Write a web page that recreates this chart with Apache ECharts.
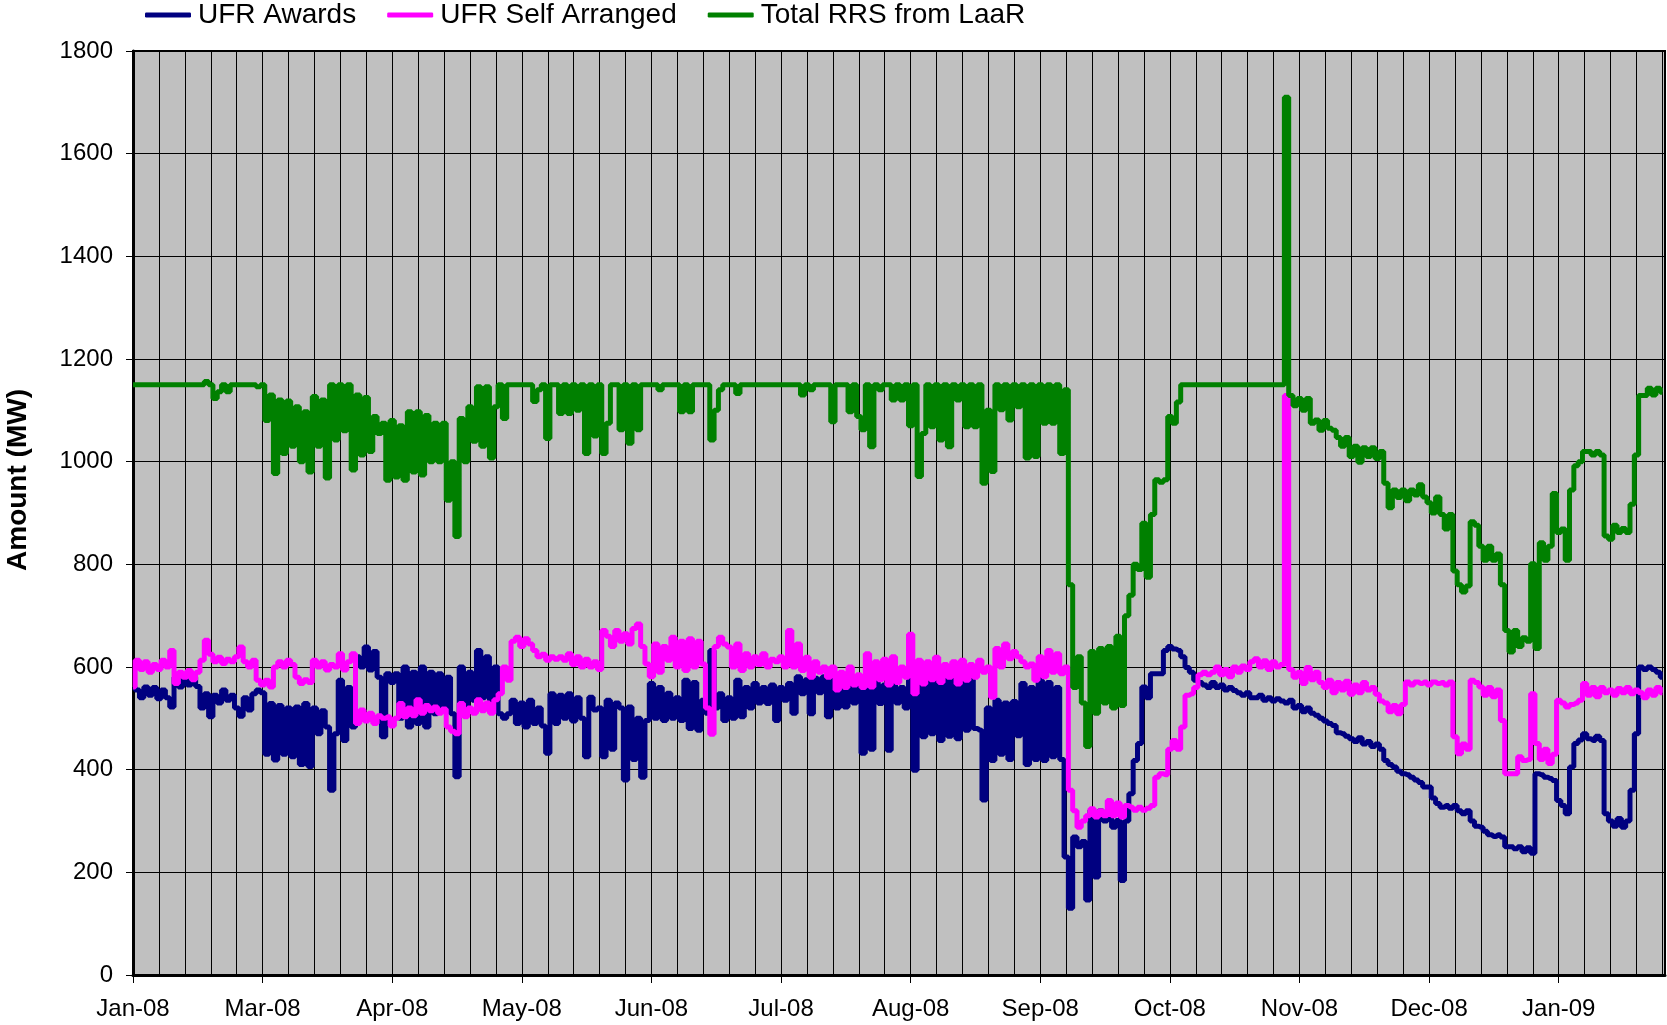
<!DOCTYPE html>
<html>
<head>
<meta charset="utf-8">
<script src="https://cdn.jsdelivr.net/npm/echarts@6/dist/echarts.min.js"></script>
<style>
html,body{margin:0;padding:0;background:#fff;}
#chart{width:1667px;height:1025px;}
</style>
</head>
<body>
<div id="chart"></div>
<script>
// Tick labels (one per major tick, every 30 days from the first day)
const xLabels = ['Jan-08','Mar-08','Apr-08','May-08','Jun-08','Jul-08','Aug-08','Sep-08','Oct-08','Nov-08','Dec-08','Jan-09'];
const tickDays = [0,30,60,90,120,150,180,210,240,270,300,330];
const yTicks = [0,200,400,600,800,1000,1200,1400,1600,1800];
const seriesNames = ['UFR Awards','UFR Self Arranged','Total RRS from LaaR'];
const yTitle = 'Amount (MW)';

// Daily values (MW), index = day from start of axis
const ufrAwards = [
561,555,540,561,545,560,538,555,540,522,
580,561,575,565,580,562,520,548,503,545,
530,555,535,545,520,504,540,516,548,555,
550,430,529,419,525,430,520,425,522,410,
529,406,520,470,515,483,360,470,574,457,
560,483,620,600,639,594,630,580,464,587,
570,587,500,600,483,590,490,600,483,590,
509,587,520,580,509,386,600,509,590,535,
632,540,620,535,600,509,500,509,535,490,
530,483,535,490,520,485,432,548,490,545,
500,548,495,540,500,425,541,516,520,425,
535,440,530,520,380,522,420,500,385,496,
568,500,560,496,549,500,540,496,574,480,
570,477,535,510,632,520,548,496,540,500,
574,503,560,520,568,530,560,529,565,496,
560,535,568,510,581,548,575,509,578,550,
581,503,575,520,574,522,570,530,581,432,
570,440,574,529,565,438,570,530,560,520,
574,399,570,464,581,470,587,457,580,465,
587,460,581,477,575,480,477,341,520,418,
535,430,530,420,533,466,568,410,560,420,
574,418,570,425,560,420,230,130,269,250,
260,146,321,191,320,300,321,288,301,184,
300,353,418,451,561,540,587,587,587,632,
640,635,632,620,599,590,574,570,565,560,
570,560,565,555,560,554,550,545,550,540,
540,545,535,540,534,538,534,530,535,520,
525,513,520,510,506,500,495,490,486,472,
470,465,460,455,462,450,455,445,450,440,
418,410,405,397,392,390,385,380,375,366,
366,345,334,327,330,325,330,320,314,320,
300,290,288,280,273,270,273,269,250,250,
246,250,240,248,237,392,390,385,383,379,
340,330,314,405,451,458,470,460,457,465,
457,314,300,290,305,288,300,360,470,600,
595,600,595,590,580
];

const ufrSelfArranged = [
561,613,595,610,590,605,595,613,600,632,
568,590,580,593,575,590,613,652,625,610,
619,607,615,610,620,639,610,600,613,574,
565,574,561,600,610,600,613,605,580,568,
575,570,613,600,610,594,605,600,626,594,
610,626,490,516,495,510,490,505,500,503,
485,500,529,503,520,505,536,510,525,515,
522,510,518,483,475,470,529,503,520,510,
536,515,530,510,536,548,600,574,650,658,
640,655,645,632,620,625,613,620,615,620,
613,626,605,620,600,615,600,610,595,671,
660,640,671,650,665,645,675,684,640,606,
581,645,590,640,613,658,600,650,593,655,
600,650,606,520,469,640,658,645,639,600,
645,593,626,600,620,605,626,600,615,610,
620,600,671,600,645,593,619,580,610,590,
600,580,600,555,590,560,600,565,585,560,
626,561,610,575,615,565,620,570,600,580,
664,548,613,567,610,575,619,570,605,580,
610,567,613,574,605,580,613,590,600,541,
636,600,645,616,630,620,610,600,606,574,
620,581,632,590,626,587,600,360,320,288,
300,310,324,308,320,310,340,310,335,308,
330,327,321,327,321,325,330,385,392,390,
440,457,440,483,545,548,560,585,590,585,
590,600,585,595,581,600,590,602,595,610,
616,600,612,595,610,600,605,1129,595,580,
590,568,599,575,590,570,560,574,550,570,
555,572,547,565,550,570,555,560,547,534,
530,513,525,509,527,571,565,571,568,571,
565,571,568,570,565,571,464,431,450,440,
574,570,561,545,560,542,555,496,392,392,
392,425,418,420,548,451,420,440,412,430,
535,530,522,527,530,535,568,545,560,542,
560,550,555,545,558,550,560,548,555,550,
540,555,545,560,550
];

const totalRRSfromLaaR = [
1150,1150,1150,1150,1150,1150,1150,1150,1150,1150,
1150,1150,1150,1150,1150,1150,1150,1156,1150,1123,
1136,1150,1136,1150,1150,1150,1150,1150,1150,1146,
1150,1080,1130,977,1120,1016,1118,1030,1107,1000,
1097,980,1127,1030,1120,968,1150,1042,1150,1060,
1150,984,1130,1013,1125,1020,1088,1055,1075,964,
1080,970,1070,964,1097,980,1097,974,1090,1000,
1075,1000,1075,925,1000,854,1084,1000,1107,1040,
1146,1030,1146,1007,1107,1150,1084,1150,1150,1150,
1150,1150,1150,1117,1140,1150,1045,1150,1150,1094,
1150,1094,1150,1100,1150,1016,1150,1050,1150,1016,
1075,1150,1150,1062,1150,1036,1150,1062,1150,1150,
1150,1150,1140,1150,1150,1150,1150,1097,1150,1097,
1150,1150,1150,1150,1042,1100,1140,1150,1150,1150,
1133,1150,1150,1150,1150,1150,1150,1150,1150,1150,
1150,1150,1150,1150,1150,1130,1150,1140,1150,1150,
1150,1150,1078,1150,1150,1150,1097,1150,1088,1062,
1150,1029,1150,1140,1150,1150,1120,1150,1120,1150,
1070,1150,971,1055,1150,1068,1150,1042,1150,1029,
1150,1120,1150,1068,1150,1068,1150,958,1100,981,
1150,1101,1150,1081,1150,1107,1150,1007,1150,1010,
1150,1075,1150,1075,1150,1016,1140,760,560,620,
530,445,630,510,636,530,640,520,660,525,
700,740,800,790,880,775,897,965,960,965,
1088,1075,1116,1150,1150,1150,1150,1150,1150,1150,
1150,1150,1150,1150,1150,1150,1150,1150,1150,1150,
1150,1150,1150,1150,1150,1150,1150,1710,1129,1109,
1123,1100,1123,1075,1081,1061,1080,1065,1061,1047,
1030,1047,1010,1030,999,1027,1010,1027,1006,1020,
958,910,945,930,945,924,945,935,955,931,
920,900,931,897,869,897,787,760,746,758,
883,876,835,808,835,808,820,760,671,629,
671,640,657,650,801,636,842,808,835,938,
862,869,808,945,992,1000,1020,1020,1013,1020,
1013,855,849,876,862,870,862,917,1013,1129,
1129,1143,1130,1143,1135
];

const FONT = '"Liberation Sans", Arial, Helvetica, sans-serif';
const toPairs = arr => arr.map((v, i) => [i, v]);
const X_MAX = 354.6;

const chart = echarts.init(document.getElementById('chart'), null, {renderer: 'canvas'});
chart.setOption({
  animation: false,
  backgroundColor: '#ffffff',
  textStyle: {fontFamily: FONT, color: '#000'},
  legend: {
    data: seriesNames,
    left: 140,
    top: -4,
    itemWidth: 46,
    itemHeight: 5,
    itemGap: 31,
    icon: 'roundRect',
    textStyle: {fontFamily: FONT, fontSize: 28, color: '#000', padding: [0, 0, 0, 2]}
  },
  graphic: [{
    type: 'text',
    x: 18,
    y: 480,
    rotation: Math.PI / 2,
    style: {text: yTitle, font: 'bold 28px ' + FONT, fill: '#000', align: 'center', verticalAlign: 'middle'}
  }],
  grid: {
    left: 133, right: 2, top: 51, bottom: 50,
    show: true,
    backgroundColor: '#C0C0C0',
    borderColor: '#000',
    borderWidth: 2,
    outerBoundsMode: 'none',
    containLabel: false
  },
  xAxis: [{
    type: 'value',
    min: 0,
    max: X_MAX,
    interval: 30,
    position: 'bottom',
    axisLine: {show: true, onZero: false, lineStyle: {color: '#000', width: 3}},
    axisTick: {show: true, length: 8, customValues: tickDays, lineStyle: {color: '#000', width: 1}},
    axisLabel: {
      show: true,
      customValues: tickDays,
      margin: 22,
      fontSize: 24,
      fontFamily: FONT,
      color: '#000',
      formatter: v => { const i = tickDays.indexOf(Math.round(v)); return i >= 0 ? xLabels[i] : ''; }
    },
    splitLine: {show: false}
  }, {
    type: 'value',
    min: 0,
    max: X_MAX,
    interval: 6,
    position: 'bottom',
    axisLine: {show: false},
    axisTick: {show: false},
    axisLabel: {show: false},
    splitLine: {show: true, lineStyle: {color: '#000', width: 1}}
  }],
  yAxis: {
    type: 'value',
    min: yTicks[0],
    max: yTicks[yTicks.length - 1],
    interval: 200,
    axisLine: {show: true, lineStyle: {color: '#000', width: 3}},
    axisTick: {show: true, length: 7, lineStyle: {color: '#000', width: 1}},
    axisLabel: {margin: 20, fontSize: 24, fontFamily: FONT, color: '#000', formatter: v => String(v)},
    splitLine: {show: true, lineStyle: {color: '#000', width: 1}}
  },
  series: [
    {name: seriesNames[0], type: 'line', step: 'middle', xAxisIndex: 0, data: toPairs(ufrAwards), showSymbol: false, symbol: 'none',
     color: '#000080', lineStyle: {color: '#000080', width: 5}},
    {name: seriesNames[1], type: 'line', step: 'middle', xAxisIndex: 0, data: toPairs(ufrSelfArranged), showSymbol: false, symbol: 'none',
     color: '#FF00FF', lineStyle: {color: '#FF00FF', width: 5}},
    {name: seriesNames[2], type: 'line', step: 'middle', xAxisIndex: 0, data: toPairs(totalRRSfromLaaR), showSymbol: false, symbol: 'none',
     color: '#008000', lineStyle: {color: '#008000', width: 5}}
  ]
});
</script>
</body>
</html>
